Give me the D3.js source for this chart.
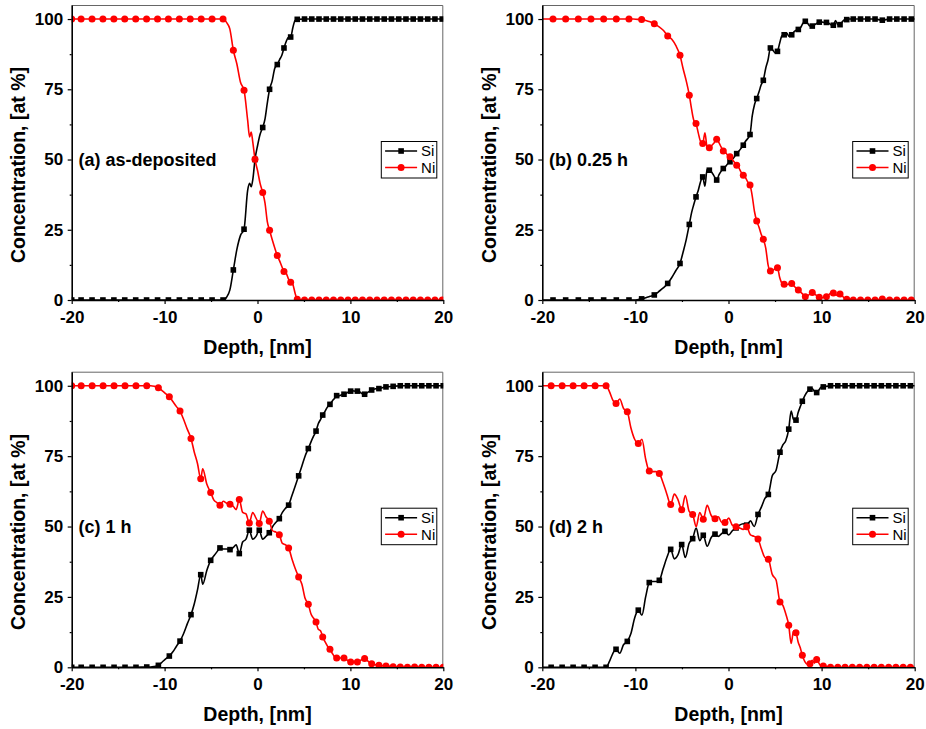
<!DOCTYPE html>
<html>
<head>
<meta charset="utf-8">
<script src="https://cdn.jsdelivr.net/npm/d3@7"></script>
<style>
  body { margin: 0; background: #fff; }
  svg { display: block; }
  text { font-family: "Liberation Sans", Arial, Helvetica, sans-serif; }
</style>
</head>
<body>
<svg id="fig" width="926" height="729"></svg>
<script>
// ---------------------------------------------------------------
// Si / Ni depth profiles, four annealing states.
// For each panel: marked samples (depth, Si, Ni) and the unmarked
// samples in between them; the drawn line runs through both sets.
// ---------------------------------------------------------------

// (a) as-deposited
const depthA = [-20, -18.99, -17.81, -16.64, -15.46, -14.29, -13.11, -11.94, -10.76, -9.59, -8.41, -7.24, -6.06, -4.89, -3.71,
  -2.6, -1.45, -0.27, 0.56, 1.3, 2.13, 2.85, 3.57, 4.28,
  5.06, 5.84, 6.62, 7.4, 8.18, 8.96, 9.74, 10.52, 11.3, 12.08, 12.86, 13.64, 14.42, 15.2, 15.98, 16.76, 17.54, 18.32, 19.1, 19.88];
const siA = [0, 0, 0, 0, 0, 0, 0, 0, 0, 0, 0, 0, 0, 0, 0,
  10.7, 25.2, 50, 61.4, 75, 83.8, 89.7, 93.6, 99.9,
  100, 100, 100, 100, 100, 100, 100, 100, 100, 100, 100, 100, 100, 100, 100, 100, 100, 100, 100, 100];
const niA = [100, 100, 100, 100, 100, 100, 100, 100, 100, 100, 100, 100, 100, 100, 100,
  88.9, 74.7, 50.1, 38.3, 24.8, 15.8, 10.1, 6.3, 0.3,
  0, 0, 0, 0, 0, 0, 0, 0, 0, 0, 0, 0, 0, 0, 0, 0, 0, 0, 0, 0];
const depthMidA = [-3.33, -2.98, -2.22, -1.83, -1.06, -0.85, -0.68, -0.5, 0.01, 0.28, 0.81, 1.05, 1.58, 1.86, 2.37, 2.61, 3.09, 3.33, 3.81, 4.04, 20];
const siMidA = [1, 3.5, 18, 23, 39, 41.5, 40.3, 43, 55, 59, 64.5, 70, 78, 82.5, 85.5, 87, 92, 93.5, 97, 99.5, 100];
const niMidA = [98.8, 96.5, 84, 77.5, 64, 58, 59.8, 56, 46, 41.5, 34.5, 28, 21.5, 18.5, 14, 12, 9.5, 7.5, 5.5, 2.5, 0];

// (b) 0.25 h
const depthB = [-18.85, -17.49, -16.13, -14.77, -13.41, -12.05, -10.69,
  -9.33, -7.97, -6.53, -5.21, -4.21, -3.49, -2.77, -2.06, -1.27, -0.56,
  0.16, 0.88, 1.59, 2.31, 3.03, 3.74, 4.5, 5.26, 5.98, 6.79,
  7.5, 8.25, 9.0, 9.75, 10.52, 11.26, 11.98, 12.7, 13.4,
  14.18, 14.96, 15.74, 16.52, 17.3, 18.08, 18.86, 19.64];
const siB = [0, 0, 0, 0, 0, 0, 0,
  0.4, 1.8, 5.9, 13, 26.9, 36.7, 43.8, 46.2, 42.7, 46.8,
  49.2, 52.1, 55.1, 58.9, 71.7, 78.2, 89.7, 88.5, 94.4, 94.4,
  96.3, 99.2, 97.5, 98.9, 98.8, 97.8, 98, 99.8, 100,
  100, 100, 100, 99.6, 100, 100, 100, 100];
const niB = [100, 100, 100, 100, 100, 100, 100,
  99.8, 98.3, 94, 87.1, 72.9, 62.8, 55.7, 54.2, 57.2, 53,
  51, 48, 44.4, 40.9, 28.1, 21.6, 10.3, 11.5, 5.6, 5.9,
  3.6, 1.2, 2.7, 1.0, 1.2, 2.5, 2.1, 0.3, 0,
  0, 0, 0, 0.4, 0, 0, 0, 0];
const depthMidB = [-20, -10.24, -9.79, -8.88, -8.42, -7.49, -7.01, -6.09, -5.65, -4.88, -4.54, -3.97, -3.73, -3.25, -3.01,
  -2.53, -2.3, -1.8, -1.53, -1.03, -0.8, -0.32, -0.08, 0.4, 0.64, 1.12, 1.35, 1.83, 2.07, 2.55, 2.79, 3.27, 3.5,
  4.0, 4.25, 4.75, 5.0, 5.5, 5.74, 6.25, 6.52, 7.03, 7.27, 7.75, 8.0, 8.5, 8.75, 9.25, 9.5, 10.0, 10.26,
  10.77, 11.0, 11.5, 11.74, 12.22, 12.46, 12.93, 13.17, 20];
const siMidB = [0, 0, 0.1, 0.8, 1.3, 3, 4.3, 8, 10.5, 17, 21.5, 31, 34, 39, 42,
  40.5, 46.5, 45.5, 44, 44.5, 45.8, 47.5, 48.5, 50, 51, 53, 54, 56.5, 57.5, 65.5, 69.5, 74, 76.5,
  82.5, 85.5, 89, 88, 91.5, 94, 95, 93.8, 95.5, 96, 97, 98.5, 98.5, 97.5, 98, 98.5, 99, 98.8,
  98.5, 98, 99.5, 98, 99, 99.7, 100, 100, 100];
const niMidB = [100, 100, 99.9, 99.5, 99, 97.3, 96, 92.8, 90.5, 82.4, 78, 68, 64, 59.5, 56.5,
  59.5, 54.5, 55, 56, 56, 54.5, 52.5, 51.5, 50, 49, 47, 45.5, 43.5, 42, 37, 31.5, 26, 23.5,
  18.5, 12.5, 10.5, 11.2, 8, 6, 5.5, 5.7, 5, 4.2, 2.8, 2, 1.5, 2.2, 2.2, 1.5, 0.8, 1,
  1.8, 2.5, 2, 1.6, 1.5, 0.6, 0.2, 0.1, 0];

// (c) 1 h
const depthC = [-20, -18.98, -17.8, -16.62, -15.44, -14.26, -13.08, -11.92,
  -10.67, -9.49, -8.34, -7.16, -6.11, -5.04, -4.04, -2.96, -1.96, -0.88,
  0.19, 1.27, 2.35, 3.35, 4.43, 5.47, 6.3, 7.02, 7.8, 8.52,
  9.31, 10.03, 10.75, 11.53, 12.29, 13.07, 13.83,
  14.6, 15.37, 16.14, 16.91, 17.68, 18.45, 19.22, 19.99];
const siC = [0, 0, 0, 0, 0, 0, 0, 0.1,
  0.7, 4.0, 9.3, 18.7, 32.9, 38, 42.4, 41.8, 40.4, 48.7,
  48.7, 47.8, 52.8, 57.6, 68, 77.7, 83.9, 89.6, 93.4, 96.5,
  97, 98.1, 98.1, 97, 98.5, 99, 99.6,
  99.8, 100, 100, 100, 100, 100, 100, 100];
const niC = [100, 100, 100, 100, 100, 100, 100, 100,
  99.3, 96.1, 91, 81.3, 67, 62.1, 57.6, 57.9, 59.6, 51.3,
  51.1, 51.9, 47.1, 42.4, 32.1, 22.4, 16.1, 10.8, 6.4, 3.3,
  3.3, 1.9, 1.9, 3.1, 1.3, 0.7, 0.5,
  0.2, 0.1, 0, 0.1, 0, 0, 0, 0];
const depthMidC = [-11.5, -11.1, -10.28, -9.88, -9.11, -8.72, -7.95, -7.55, -6.81, -6.46, -5.9, -5.45, -4.71, -4.37,
  -3.68, -3.32, -2.63, -2.3, -1.6, -1.24, -0.52, -0.16, 0.55, 0.91, 1.63, 1.99, 2.68, 3.02, 3.71, 4.07,
  4.78, 5.12, 5.75, 6.02, 6.54, 6.78, 7.28, 7.54, 8.04, 8.28, 8.78, 9.05, 9.55, 9.79, 10.27, 10.51,
  11.01, 11.27, 11.78, 12.04, 12.55, 12.81, 13.32, 13.58, 20];
const siMidC = [0.1, 0.3, 1.8, 3, 5.5, 7.5, 12, 15.5, 22.5, 27.5, 29.5, 34.5, 39.5, 41,
  42, 42, 42.5, 43.5, 44.5, 45.5, 45.5, 46.5, 45.5, 46.5, 50, 51.5, 55, 56.5, 61, 64.5,
  71.5, 75, 80, 82, 86.5, 88, 91, 92.5, 94.5, 95.5, 96.5, 96.8, 97.3, 97.8, 98.2, 98.1,
  97.8, 97.2, 97.5, 98, 98.8, 99, 99.2, 99.5, 100];
const niMidC = [100, 99.8, 98.3, 97.2, 94.4, 92.6, 88, 84.5, 76.5, 72.4, 70.5, 65, 59.5, 58.5,
  59, 58.3, 57.3, 56, 55, 54.5, 55, 53, 55.5, 53.5, 48.5, 48, 44, 43.5, 38.5, 35,
  29.5, 24.5, 19, 17.5, 13.5, 13, 9, 7.5, 5, 3.8, 3.3, 3.3, 2.8, 2.2, 1.8, 2,
  2.3, 2.8, 2.5, 1.8, 1, 0.8, 0.6, 0.5, 0];

// (d) 2 h
const depthD = [-19.05, -17.87, -16.69, -15.51, -14.33, -13.15,
  -12.08, -10.87, -9.69, -8.51, -7.43, -6.21, -5.03, -3.85, -2.71, -1.45,
  -0.38, 0.81, 1.95, 3.17, 4.28, 5.53, 6.47, 7.25, 7.93, 8.75, 9.47, 10.18,
  10.96, 11.74, 12.52, 13.3, 14.08, 14.86, 15.64, 16.42, 17.2, 17.98, 18.76, 19.54];
const siD = [0, 0, 0, 0, 0, 0,
  6.4, 9.2, 20.3, 30.1, 30.9, 41.9, 43.6, 45.7, 46.9, 47.3,
  48.3, 49.5, 50.5, 54.3, 61.4, 76.4, 84.6, 87.8, 94.5, 98.8, 97.6, 99.6,
  100, 100, 100, 100, 100, 100, 100, 100, 100, 100, 100, 100];
const niD = [100, 100, 100, 100, 100, 100,
  93.7, 90.8, 79.5, 69.7, 68.8, 57.8, 56, 54.3, 52.6, 52.8,
  51.4, 49.9, 49.9, 45.6, 38.4, 23.2, 14.9, 12.3, 4.3, 1.3, 2.8, 0.5,
  0, 0, 0, 0, 0, 0, 0, 0, 0, 0, 0, 0];
const depthMidD = [-20, -12.8, -12.44, -11.68, -11.28, -10.48, -10.08, -9.3, -8.9, -8.15, -7.79, -7.02, -6.62,
  -5.82, -5.42, -4.64, -4.24, -3.47, -3.09, -2.29, -1.87, -1.09, -0.74, 0.02, 0.41, 1.19, 1.57,
  2.36, 2.76, 3.54, 3.91, 4.7, 5.11, 5.84, 6.15, 6.73, 6.99, 7.48, 7.7, 8.2, 8.48, 8.99, 9.23, 9.71, 9.94, 20];
const siMidD = [0, 2, 4.8, 5, 8, 12, 17.5, 18.5, 25, 30.5, 30.5, 35, 39,
  38.5, 40, 39, 44, 49.5, 45, 43, 46, 46.5, 47.5, 47, 48.5, 50.5, 51,
  52, 50, 57, 60, 68, 70, 79, 80.5, 91, 88, 90.5, 92.5, 96.5, 98, 99, 98, 98.5, 99.5, 100];
const niMidD = [100, 98, 95, 95.3, 92, 85, 81, 81, 74, 69.5, 69.5, 65.5, 61.5,
  61.5, 59.5, 61, 55.5, 50, 55, 57.5, 54, 53.5, 51.5, 53, 50.5, 49.5, 49,
  47, 46.5, 42, 39, 33, 31, 22, 19, 8.5, 13, 9, 7, 2, 1, 2.5, 1.5, 1.5, 0.5, 0];

// axis ticks and labels
const xTicks = [-20, -10, 0, 10, 20];
const xTickLabels = ['-20', '-10', '0', '10', '20'];
const xMinorTicks = [-15, -5, 5, 15];
const yTicks = [0, 25, 50, 75, 100];
const yTickLabels = ['0', '25', '50', '75', '100'];
const yMinorTicks = [12.5, 37.5, 62.5, 87.5];
const xDomain = [-20, 20];
const yDomain = [0, 105];

const seriesNames = ['Si', 'Ni'];
const panelLabels = ['(a) as-deposited', '(b) 0.25 h', '(c) 1 h', '(d) 2 h'];
const xTitle = 'Depth, [nm]';
const yTitle = 'Concentration, [at %]';

// ---------------------------------------------------------------
// layout
// ---------------------------------------------------------------
const boxes = [
  { left: 71.7,  right: 443.3, top: 5,     bottom: 300 },
  { left: 542.3, right: 914.7, top: 5,     bottom: 300 },
  { left: 71.7,  right: 443.3, top: 371.7, bottom: 667.3 },
  { left: 542.3, right: 914.7, top: 371.7, bottom: 667.3 }
];
const panelData = [
  { depth: depthA, si: siA, ni: niA, dMid: depthMidA, siMid: siMidA, niMid: niMidA },
  { depth: depthB, si: siB, ni: niB, dMid: depthMidB, siMid: siMidB, niMid: niMidB },
  { depth: depthC, si: siC, ni: niC, dMid: depthMidC, siMid: siMidC, niMid: niMidC },
  { depth: depthD, si: siD, ni: niD, dMid: depthMidD, siMid: siMidD, niMid: niMidD }
];

const RED = '#ff0000';
const BLACK = '#000000';
const SQUARE = 5.6;   // marker side
const RADIUS = 3.5;   // circle marker radius

const svg = d3.select('#fig');
const defs = svg.append('defs');

function drawMarker(sel, kind, color, cx, cy) {
  if (kind === 'square') {
    sel.append('rect')
      .attr('x', cx - SQUARE / 2).attr('y', cy - SQUARE / 2)
      .attr('width', SQUARE).attr('height', SQUARE)
      .attr('fill', color);
  } else {
    sel.append('circle')
      .attr('cx', cx).attr('cy', cy).attr('r', RADIUS)
      .attr('fill', color);
  }
}

boxes.forEach((b, i) => {
  const data = panelData[i];
  const g = svg.append('g');

  const x = d3.scaleLinear().domain(xDomain).range([b.left, b.right]);
  const y = d3.scaleLinear().domain(yDomain).range([b.bottom, b.top]);

  const clipId = 'plotclip' + i;
  defs.append('clipPath').attr('id', clipId).append('rect')
    .attr('x', b.left).attr('y', b.top)
    .attr('width', b.right - b.left).attr('height', b.bottom - b.top);

  // thin frame on top and right
  g.append('path')
    .attr('d', `M${b.left},${b.top + 0.5}H${b.right - 0.5}V${b.bottom}`)
    .attr('fill', 'none').attr('stroke', '#666').attr('stroke-width', 1);

  const plot = g.append('g').attr('clip-path', `url(#${clipId})`);

  const series = [
    { name: seriesNames[0], color: BLACK, kind: 'square', marks: data.si, mids: data.siMid },
    { name: seriesNames[1], color: RED, kind: 'circle', marks: data.ni, mids: data.niMid }
  ];

  const line = d3.line()
    .x(d => x(d[0]))
    .y(d => y(d[1]))
    .curve(d3.curveMonotoneX);

  series.forEach(s => {
    const marked = data.depth.map((d, k) => [d, s.marks[k]]);
    const between = data.dMid.map((d, k) => [d, s.mids[k]]);
    const pts = marked.concat(between).sort((p, q) => p[0] - q[0]);

    plot.append('path')
      .attr('d', line(pts))
      .attr('fill', 'none')
      .attr('stroke', s.color)
      .attr('stroke-width', 1.6)
      .attr('stroke-linejoin', 'round');

    const mg = plot.append('g');
    marked.forEach(p => drawMarker(mg, s.kind, s.color, x(p[0]), y(p[1])));
  });

  // axes
  const xAxis = g.append('g').attr('transform', `translate(0,${b.bottom})`)
    .call(d3.axisBottom(x).tickValues(xTicks).tickSize(4).tickSizeOuter(0).tickPadding(6.5)
      .tickFormat((d, k) => xTickLabels[k]));
  const xMinor = g.append('g').attr('transform', `translate(0,${b.bottom})`)
    .call(d3.axisBottom(x).tickValues(xMinorTicks).tickSize(2).tickSizeOuter(0).tickFormat(''));
  const yAxis = g.append('g').attr('transform', `translate(${b.left},0)`)
    .call(d3.axisLeft(y).tickValues(yTicks).tickSize(4).tickSizeOuter(0).tickPadding(4.5)
      .tickFormat((d, k) => yTickLabels[k]));
  const yMinor = g.append('g').attr('transform', `translate(${b.left},0)`)
    .call(d3.axisLeft(y).tickValues(yMinorTicks).tickSize(2).tickSizeOuter(0).tickFormat(''));

  [xMinor, yMinor].forEach(a => a.select('.domain').remove());
  [xAxis, yAxis].forEach(a => a.select('.domain').attr('stroke', BLACK).attr('stroke-width', 1.6));
  [xAxis, yAxis, xMinor, yMinor].forEach(a => {
    a.selectAll('.tick line').attr('stroke', BLACK).attr('stroke-width', 1.2);
    a.selectAll('.tick text')
      .attr('fill', BLACK)
      .style('font-family', '"Liberation Sans", Arial, sans-serif')
      .style('font-size', '17px')
      .style('font-weight', 'bold');
  });

  // axis titles
  g.append('text')
    .attr('x', (b.left + b.right) / 2)
    .attr('y', b.bottom + 53.5)
    .attr('text-anchor', 'middle')
    .style('font-size', '19.5px').style('font-weight', 'bold')
    .text(xTitle);

  g.append('text')
    .attr('transform', `translate(${b.left - 53.4},${(b.top + b.bottom) / 2 + 12.5}) rotate(-90)`)
    .attr('text-anchor', 'middle')
    .attr('dy', '0.36em')
    .style('font-size', '19.5px').style('font-weight', 'bold')
    .text(yTitle);

  // panel label
  g.append('text')
    .attr('x', b.left + 6.7)
    .attr('y', b.top + 161)
    .style('font-size', '18px').style('font-weight', 'bold')
    .text(panelLabels[i]);

  // legend
  const lg = g.append('g').attr('transform', `translate(${b.right - 62.5},${b.top + 136})`);
  lg.append('rect')
    .attr('x', 0.5).attr('y', 0.5).attr('width', 55.5).attr('height', 36.5)
    .attr('fill', '#fff').attr('stroke', BLACK).attr('stroke-width', 1);
  series.forEach((s, k) => {
    const cy = 10 + k * 16.6;
    lg.append('line')
      .attr('x1', 4.3).attr('x2', 36.3).attr('y1', cy).attr('y2', cy)
      .attr('stroke', s.color).attr('stroke-width', 1.5);
    drawMarker(lg, s.kind, s.color, 20.3, cy);
    lg.append('text')
      .attr('x', 40.3).attr('y', cy).attr('dy', '0.36em')
      .style('font-size', '15px')
      .text(s.name);
  });
});
</script>
</body>
</html>
